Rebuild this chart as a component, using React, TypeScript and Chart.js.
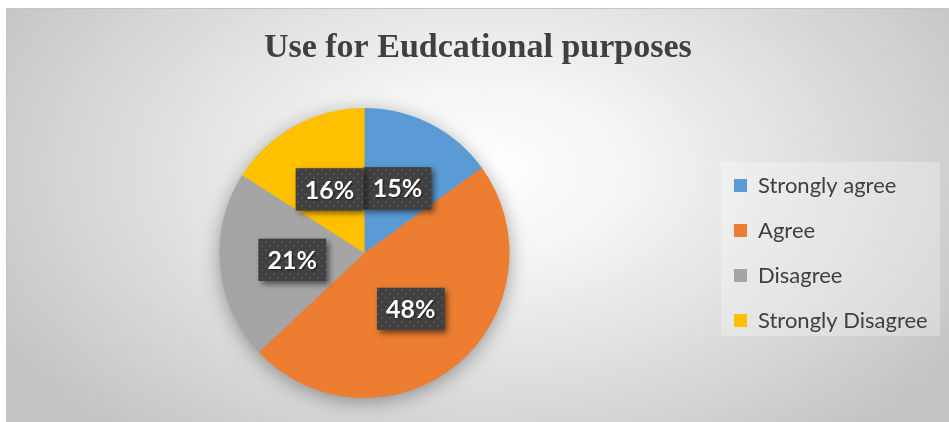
import React, { useEffect, useRef } from 'react';
import { Chart, registerables } from 'chart.js';

Chart.register(...registerables);

// ---- data ----
const categories = ['Strongly agree', 'Agree', 'Disagree', 'Strongly Disagree'];
const values = [15, 48, 21, 16];
const sliceColors = ['#5B9BD5', '#ED7D31', '#A5A5A5', '#FFC000'];
const chartTitle = 'Use for Eudcational purposes';

// ---- layout constants ----
const W = 949;
const H = 422;
const LEGEND_FONT = 22;
const LEGEND_PAD = 23;
const LEGEND_BOX = 13;
const LEGEND_LEFT = 711;
const PIE_CX = 364.5;

const backgroundPlugin = {
  id: 'bgFrame',
  beforeDraw(chart: any) {
    const ctx = chart.ctx as CanvasRenderingContext2D;
    ctx.save();
    ctx.fillStyle = '#ffffff';
    ctx.fillRect(0, 0, W, H);
    ctx.beginPath();
    ctx.rect(6, 8, W - 6, H - 8);
    ctx.clip();
    const cx = 485, cy = 170, rx = 560, k = 0.62;
    ctx.save();
    ctx.translate(cx, cy);
    ctx.scale(1, k);
    const g = ctx.createRadialGradient(0, 0, 0, 0, 0, rx);
    g.addColorStop(0, '#ffffff');
    g.addColorStop(0.25, '#f5f5f5');
    g.addColorStop(0.7, '#d8d8d8');
    g.addColorStop(1, '#c4c4c4');
    ctx.fillStyle = g;
    ctx.fillRect(-2 * W, -2 * H / k, 4 * W, 4 * H / k);
    ctx.restore();
    ctx.strokeStyle = '#c4c4c4';
    ctx.lineWidth = 1;
    ctx.beginPath();
    ctx.moveTo(6.5, H);
    ctx.lineTo(6.5, 8.5);
    ctx.lineTo(W, 8.5);
    ctx.stroke();
    ctx.restore();

    // legend panel
    ctx.save();
    ctx.fillStyle = 'rgba(255,255,255,0.28)';
    ctx.fillRect(721, 162, 219, 174);
    ctx.restore();
  },
};

const pieShadowPlugin = {
  id: 'pieShadow',
  beforeDatasetsDraw(chart: any) {
    const meta = chart.getDatasetMeta(0);
    const arc = meta.data[0];
    if (!arc) return;
    const ctx = chart.ctx as CanvasRenderingContext2D;
    ctx.save();
    ctx.shadowColor = 'rgba(0,0,0,0.38)';
    ctx.shadowBlur = 20;
    ctx.shadowOffsetY = 4;
    ctx.beginPath();
    ctx.arc(arc.x, arc.y, arc.outerRadius - 1, 0, Math.PI * 2);
    ctx.fillStyle = '#999999';
    ctx.fill();
    ctx.restore();
  },
};

function makePattern(ctx: CanvasRenderingContext2D) {
  const c = document.createElement('canvas');
  c.width = 8;
  c.height = 8;
  const p = c.getContext('2d')!;
  p.fillStyle = '#404040';
  p.fillRect(0, 0, 8, 8);
  p.fillStyle = '#525252';
  p.fillRect(1, 1, 2, 2);
  p.fillRect(5, 5, 2, 2);
  return ctx.createPattern(c, 'repeat');
}

const labelPlugin = {
  id: 'boxLabels',
  afterDatasetsDraw(chart: any) {
    const ctx = chart.ctx as CanvasRenderingContext2D;
    const meta = chart.getDatasetMeta(0);
    const data = chart.data.datasets[0].data as number[];
    const total = data.reduce((a, b) => a + b, 0);
    const pattern = makePattern(ctx);
    meta.data.forEach((arc: any, i: number) => {
      const pos = arc.tooltipPosition();
      const text = Math.round((data[i] / total) * 100) + '%';
      ctx.save();
      ctx.font = 'bold 25px Lato';
      const tw = ctx.measureText(text).width;
      const bw = tw + 18;
      const bh = 42;
      const x = pos.x - bw / 2;
      const y = pos.y - bh / 2;
      ctx.shadowColor = 'rgba(0,0,0,0.55)';
      ctx.shadowBlur = 6;
      ctx.shadowOffsetX = 3;
      ctx.shadowOffsetY = 3;
      ctx.fillStyle = '#404040';
      ctx.fillRect(x, y, bw, bh);
      ctx.shadowColor = 'transparent';
      ctx.fillStyle = pattern || '#404040';
      ctx.fillRect(x, y, bw, bh);
      ctx.shadowColor = 'rgba(0,0,0,0.6)';
      ctx.shadowBlur = 2;
      ctx.shadowOffsetX = 1;
      ctx.shadowOffsetY = 1;
      ctx.fillStyle = '#ffffff';
      ctx.textAlign = 'center';
      ctx.textBaseline = 'middle';
      ctx.fillText(text, pos.x, pos.y + 1);
      ctx.restore();
    });
  },
};

export default function App() {
  const ref = useRef<HTMLCanvasElement | null>(null);

  useEffect(() => {
    const canvas = ref.current;
    if (!canvas) return;
    const mctx = document.createElement('canvas').getContext('2d')!;
    mctx.font = `${LEGEND_FONT}px Lato`;
    const longest = Math.max(...categories.map((c) => mctx.measureText(c).width));
    const legendWidth = LEGEND_PAD + LEGEND_BOX + LEGEND_FONT / 2 + longest + 10;
    const padRight = W - LEGEND_LEFT - legendWidth;
    const padLeft = 2 * PIE_CX - LEGEND_LEFT;

    const chart = new Chart(canvas, {
      type: 'pie',
      data: {
        labels: categories,
        datasets: [
          {
            data: values,
            backgroundColor: sliceColors,
            borderWidth: 0,
            hoverOffset: 0,
          },
        ],
      },
      options: {
        responsive: false,
        animation: false,
        layout: { padding: { top: 8, bottom: 24, left: padLeft, right: padRight } },
        plugins: {
          title: {
            display: true,
            text: chartTitle,
            color: '#404040',
            font: { family: 'Liberation Serif', size: 34, weight: 'bold', lineHeight: 1.2 },
            padding: { top: 20, bottom: 39.2 },
          },
          legend: {
            display: true,
            position: 'right',
            fullSize: false,
            align: 'center',
            labels: {
              boxWidth: LEGEND_BOX,
              boxHeight: LEGEND_BOX,
              padding: LEGEND_PAD,
              color: '#404040',
              font: { family: 'Lato', size: LEGEND_FONT },
            },
          },
          tooltip: { enabled: false },
        },
      },
      plugins: [backgroundPlugin, pieShadowPlugin, labelPlugin],
    });
    return () => chart.destroy();
  }, []);

  return (
    <div style={{ position: 'absolute', left: 0, top: 0, width: W, height: H }}>
      <canvas ref={ref} width={W} height={H} style={{ display: 'block' }} />
    </div>
  );
}
